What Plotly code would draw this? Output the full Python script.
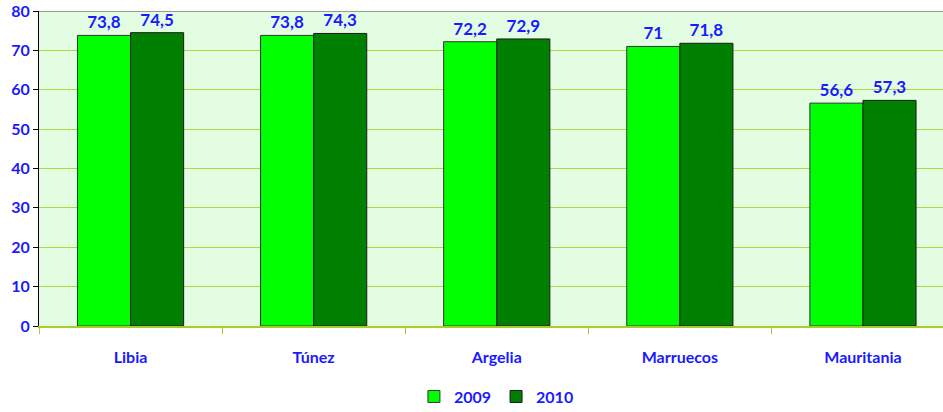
import plotly.graph_objects as go

categories = ["Libia", "Túnez", "Argelia", "Marruecos", "Mauritania"]
values_2009 = [73.8, 73.8, 72.2, 71.0, 56.6]
values_2010 = [74.5, 74.3, 72.9, 71.8, 57.3]
labels_2009 = ["73,8", "73,8", "72,2", "71", "56,6"]
labels_2010 = ["74,5", "74,3", "72,9", "71,8", "57,3"]
y_ticks = [0, 10, 20, 30, 40, 50, 60, 70, 80]

BLUE = "#1a1aff"
FONT = "Lato, 'Open Sans', sans-serif"

fig = go.Figure()
fig.add_trace(go.Bar(
    name="2009", x=categories, y=values_2009, text=labels_2009,
    textposition="outside", cliponaxis=False,
    marker=dict(color="#00ff00", line=dict(color="#333333", width=1)),
    textfont=dict(color=BLUE, size=17, family=FONT, weight="bold"),
))
fig.add_trace(go.Bar(
    name="2010", x=categories, y=values_2010, text=labels_2010,
    textposition="outside", cliponaxis=False,
    marker=dict(color="#008000", line=dict(color="#1a1a1a", width=1)),
    textfont=dict(color=BLUE, size=17, family=FONT, weight="bold"),
))

fig.update_layout(
    width=943, height=412,
    margin=dict(l=39, r=0, t=11, b=86, autoexpand=False),
    paper_bgcolor="white",
    plot_bgcolor="#e3fde3",
    barmode="group",
    bargap=0.42,
    bargroupgap=0,
    font=dict(family=FONT, color=BLUE, size=16, weight="bold"),
    showlegend=True,
    legend=dict(orientation="h", x=0.506, xanchor="center", y=-0.17, yanchor="top",
                font=dict(size=16, color=BLUE, family=FONT, weight="bold"),
                itemwidth=30, tracegroupgap=0),
    xaxis=dict(
        automargin=False,
        range=[-0.5, -0.5 + (943 - 39.5) / 183],
        tickson="boundaries", ticks="outside", ticklen=6, tickcolor="#a8cc28",
        showline=True, linecolor="#a8cc28", linewidth=2,
        showgrid=False,
        tickfont=dict(size=16, color=BLUE, family=FONT, weight="bold"),
        ticklabelstandoff=16,
    ),
    yaxis=dict(
        automargin=False,
        range=[0, 80], tickvals=y_ticks,
        ticks="outside", ticklen=5, tickcolor="black",
        showline=True, linecolor="black", linewidth=1,
        showgrid=True, gridcolor="#b0d840", gridwidth=1,
        zeroline=False,
        tickfont=dict(size=16, color=BLUE, family=FONT, weight="bold"),
    ),
)
fig.add_shape(type="line", xref="paper", yref="y", x0=0, x1=1, y0=80, y1=80,
              line=dict(color="#999999", width=2))

fig.write_html("out.html", config={"displayModeBar": False},
               post_script="document.body.style.margin='0';document.body.style.padding='0';")
